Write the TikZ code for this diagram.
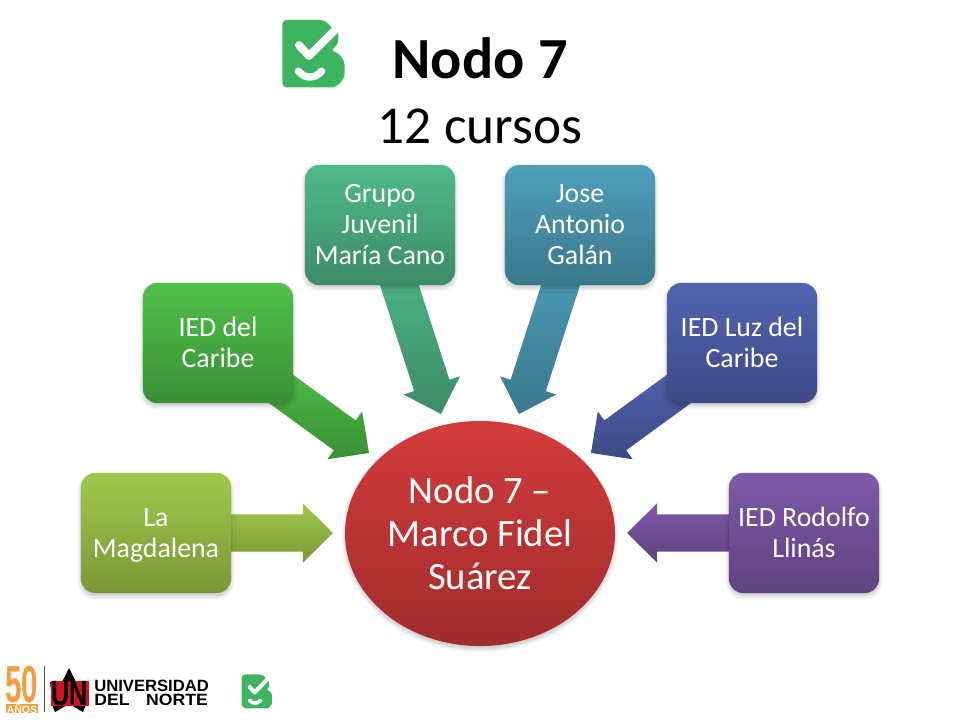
\documentclass[tikz,border=0pt]{standalone}
\usepackage{fontspec}
\setmainfont{Carlito}
\newfontfamily\logofont{Liberation Sans}
\usetikzlibrary{shapes, calc, backgrounds, shadows.blur}
\definecolor{lmtop}{HTML}{A0C94B}
\definecolor{lmbot}{HTML}{7A9737}
\definecolor{dctop}{HTML}{50C049}
\definecolor{dcbot}{HTML}{3A9035}
\definecolor{gjtop}{HTML}{50BA89}
\definecolor{gjbot}{HTML}{3C8B67}
\definecolor{jatop}{HTML}{4E9FBA}
\definecolor{jabot}{HTML}{3B788C}
\definecolor{lctop}{HTML}{5363B1}
\definecolor{lcbot}{HTML}{3D4A86}
\definecolor{rltop}{HTML}{7E59A8}
\definecolor{rlbot}{HTML}{5D437E}
\definecolor{nodotop}{HTML}{D33C3C}
\definecolor{nodobot}{HTML}{A02C2C}
\definecolor{logogreen}{HTML}{3DB460}
\definecolor{unred}{HTML}{D2141E}
\definecolor{unorange}{HTML}{F0A040}
\tikzset{softshadow/.style={blur shadow={shadow blur steps=6, shadow xshift=0pt, shadow yshift=-2pt, shadow blur radius=3pt, shadow opacity=25}}}
\tikzset{cursobox/.style 2 args={rectangle, rounded corners=0.35cm, minimum width=3.75cm, minimum height=3cm, align=center, text=white, font=\fontsize{19.8}{22}\selectfont, top color=#1, bottom color=#2, softshadow}}
\tikzset{fatarrow/.style n args={3}{draw=none, top color=#2, bottom color=#3, to path={
    ($(\tikztotarget)!#1*0.025cm!(\tikztostart)$)
    coordinate (tail)
    ($(\tikztotarget)!0.75cm!(\tikztostart)$) coordinate (neck)
    ($(tail)!0.4625cm!90:(\tikztotarget)$)
    -- ($(neck)!0.4625cm!-90:(\tikztostart)$)
    -- ($(neck)!0.74cm!-90:(\tikztostart)$)
    -- (\tikztotarget)
    -- ($(neck)!0.74cm!90:(\tikztostart)$)
    -- ($(neck)!0.4625cm!90:(\tikztostart)$)
    -- ($(tail)!0.4625cm!-90:(\tikztotarget)$)
    -- cycle}}}
\newcommand{\logomark}[4]{
    \begin{scope}[shift={(#1,#2)}, x=#3*0.025cm, y=-#4*0.025cm]
        \fill [logogreen, rounded corners=0.1cm] (22,18) -- (148,18) -- (172,40) -- (190,62) -- (190,62) .. controls (190,82) and (180,95) .. (166,103)
            .. controls (195,110) and (209,130) .. (209,155) .. controls (209,185) and (185,205) .. (158,205) -- (22,205) -- cycle;
        \draw [white, line width=#4*0.55cm, line cap=round, line join=round] (72,88) -- (102,118) -- (178,48);
        \draw [white, line width=#4*0.5cm, line cap=round] (70,160) .. controls (90,182) and (120,182) .. (140,160);
    \end{scope}
}
\newcommand{\lastline}{\rule[-1.5pt]{0pt}{1.5pt}}
\begin{document}
\begin{tikzpicture}[x=0.025cm, y=-0.025cm]
    \useasboundingbox (0,0) rectangle (960,720);

    \logomark{275}{13.5}{0.3333}{0.36}
    \node [font=\fontsize{41.4}{41.4}\selectfont\bfseries] (Ttitle) at (480,58) {Nodo 7};
    \node [font=\fontsize{37.9}{37.9}\selectfont] (Tcursos) at (480,126) {12 cursos};

    \node [ellipse, minimum width=6.75cm, minimum height=5.625cm, inner sep=0pt, align=center, text=white,
        font=\fontsize{27.5}{30.5}\selectfont, top color=nodotop, bottom color=nodobot, softshadow] (Pnodo) at (480,533.5) {Nodo 7 --\\Marco Fidel\\Suárez};

    \node [cursobox={lmtop}{lmbot}] (Plm) at (156,533) {La\\\smash{Magdalena}};
    \node [cursobox={dctop}{dcbot}] (Pdc) at (218,343) {IED del\\Caribe\lastline};
    \node [cursobox={gjtop}{gjbot}] (Pgj) at (380,225) {Grupo\\Juvenil\\María Cano};
    \node [cursobox={jatop}{jabot}] (Pja) at (580,225) {Jose\\Antonio\\Galán};
    \node [cursobox={lctop}{lcbot}] (Plc) at (742,343) {IED Luz del\\Caribe\lastline};
    \node [cursobox={rltop}{rlbot}] (Prl) at (804,533) {IED Rodolfo\\Llinás\lastline};

    \coordinate (Tlm) at (333,533);
    \coordinate (Tdc) at (369,453);
    \coordinate (Tgj) at (441,414);
    \coordinate (Tja) at (519,414);
    \coordinate (Tlc) at (591,453);
    \coordinate (Trl) at (627,533);

    \begin{scope}[on background layer]
        \draw [fatarrow={110}{lmtop}{lmbot}] (Plm) to (Tlm);
        \draw [fatarrow={112}{dctop!85!dcbot}{dcbot}] (Pdc) to (Tdc);
        \draw [fatarrow={145}{gjtop!85!gjbot}{gjbot}] (Pgj) to (Tgj);
        \draw [fatarrow={145}{jatop!85!jabot}{jabot}] (Pja) to (Tja);
        \draw [fatarrow={112}{lctop!85!lcbot}{lcbot}] (Plc) to (Tlc);
        \draw [fatarrow={110}{rltop}{rlbot}] (Prl) to (Trl);
    \end{scope}

    % footer
    \fill [unorange] (6,704) rectangle (38,713);
    \node [font=\logofont\bfseries\fontsize{7.5}{7.5}\selectfont, text=white, inner sep=0pt] (Tanos) at (22,708.5) {AÑOS};
    \node [font=\logofont\bfseries\fontsize{37}{37}\selectfont, text=unorange, inner sep=0pt, xscale=0.57, text height=26pt, text depth=0pt] (Tfifty) at (22,684.5) {50};
    \draw [black!70, line width=0.5pt] (44.7,666) -- (44.7,712);
    \fill [black] (69,668) -- (76,682) -- (88,682) -- (85,707) -- (83,712) -- (69,704) -- (55,712) -- (53,707) -- (50,682) -- (62,682) -- cycle;
    \fill [unred] (51,681) rectangle (89,706);
    \node [font=\logofont\bfseries\fontsize{25}{25}\selectfont, inner sep=0pt, xscale=0.72] (Tun) at (70,693.5) {UN};
    \node [font=\logofont\bfseries\fontsize{11.6}{11.6}\selectfont, inner sep=0pt, anchor=west, xscale=1.02] (Tuni) at (94,686) {UNIVERSIDAD};
    \node [font=\logofont\bfseries\fontsize{11.6}{11.6}\selectfont, inner sep=0pt, anchor=west, xscale=1.08] (Tnorte) at (94,699.5) {DEL\hspace{11pt}NORTE};
    \logomark{238}{671}{0.163}{0.182}
\end{tikzpicture}
\end{document}
